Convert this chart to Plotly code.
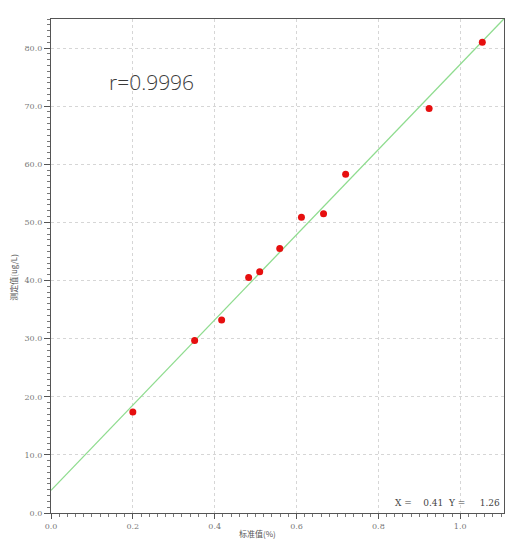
import plotly.graph_objects as go
import numpy as np

# Data
std_values = [0.200, 0.351, 0.417, 0.483, 0.510, 0.559, 0.612, 0.666, 0.720, 0.924, 1.054]
measured = [17.4, 29.7, 33.2, 40.5, 41.5, 45.5, 50.9, 51.5, 58.3, 69.6, 81.0]
fit_slope = 73.3
fit_intercept = 3.9
x_range = [0.0, 1.107]
y_range = [0.0, 85.0]
x_ticks = [0.0, 0.2, 0.4, 0.6, 0.8, 1.0]
x_tick_labels = ["0.0", "0.2", "0.4", "0.6", "0.8", "1.0"]
y_ticks = [0, 10, 20, 30, 40, 50, 60, 70, 80]
y_tick_labels = ["0.0", "10.0", "20.0", "30.0", "40.0", "50.0", "60.0", "70.0", "80.0"]

line_x = np.array(x_range)
line_y = fit_intercept + fit_slope * line_x

fig = go.Figure()
fig.add_trace(go.Scatter(x=line_x, y=line_y, mode="lines",
                         line=dict(color="#8fdc8f", width=1.3), hoverinfo="skip"))
fig.add_trace(go.Scatter(x=std_values, y=measured, mode="markers",
                         marker=dict(color="#e60f0f", size=7)))

tickfont = dict(family="DejaVu Serif", size=8, color="#777777")
fig.update_xaxes(range=x_range, tickvals=x_ticks, ticktext=x_tick_labels,
                 showgrid=True, gridcolor="#d6d6d6", griddash="dot", gridwidth=1,
                 showline=True, linecolor="#555555", linewidth=1.2, mirror=True,
                 ticks="outside", ticklen=5, tickcolor="#555555",
                 minor=dict(dtick=0.02, ticks="outside", ticklen=3, tickcolor="#777777", showgrid=False),
                 tickfont=tickfont, zeroline=False)
fig.update_yaxes(range=y_range, tickvals=y_ticks, ticktext=y_tick_labels,
                 showgrid=True, gridcolor="#d6d6d6", griddash="dot", gridwidth=1,
                 showline=True, linecolor="#555555", linewidth=1.2, mirror=True,
                 ticks="outside", ticklen=6, tickcolor="#555555",
                 minor=dict(dtick=1, ticks="outside", ticklen=3, tickcolor="#777777", showgrid=False),
                 tickfont=tickfont, zeroline=False)

fig.add_annotation(text="r=0.9996", xref="paper", yref="paper", x=0.123, y=0.873,
                   xanchor="left", yanchor="middle", showarrow=False,
                   font=dict(family="Open Sans", size=21, color="#3a3a3a", weight=300))
fig.add_annotation(text="X =&nbsp;&nbsp;&nbsp;&nbsp;0.41&nbsp;&nbsp;Y =&nbsp;&nbsp;&nbsp;&nbsp;&nbsp;1.26",
                   xref="paper", yref="paper", x=0.996, y=0.02,
                   xanchor="right", yanchor="middle", showarrow=False,
                   font=dict(family="DejaVu Serif", size=9, color="#444444"))
fig.add_annotation(text="测定值(ug/L)", xref="paper", yref="paper", x=-0.083, y=0.477,
                   textangle=-90, xanchor="center", yanchor="middle", showarrow=False,
                   font=dict(family="Noto Sans CJK SC", size=8, color="#555555"))
fig.add_annotation(text="标准值(%)", xref="paper", yref="paper", x=0.455, y=-0.042,
                   xanchor="center", yanchor="middle", showarrow=False,
                   font=dict(family="Noto Sans CJK SC", size=8, color="#555555"))

fig.update_layout(width=517, height=543, margin=dict(l=51, r=12, t=19, b=27),
                  paper_bgcolor="white", plot_bgcolor="white", showlegend=False)

fig.write_html("out.html")
